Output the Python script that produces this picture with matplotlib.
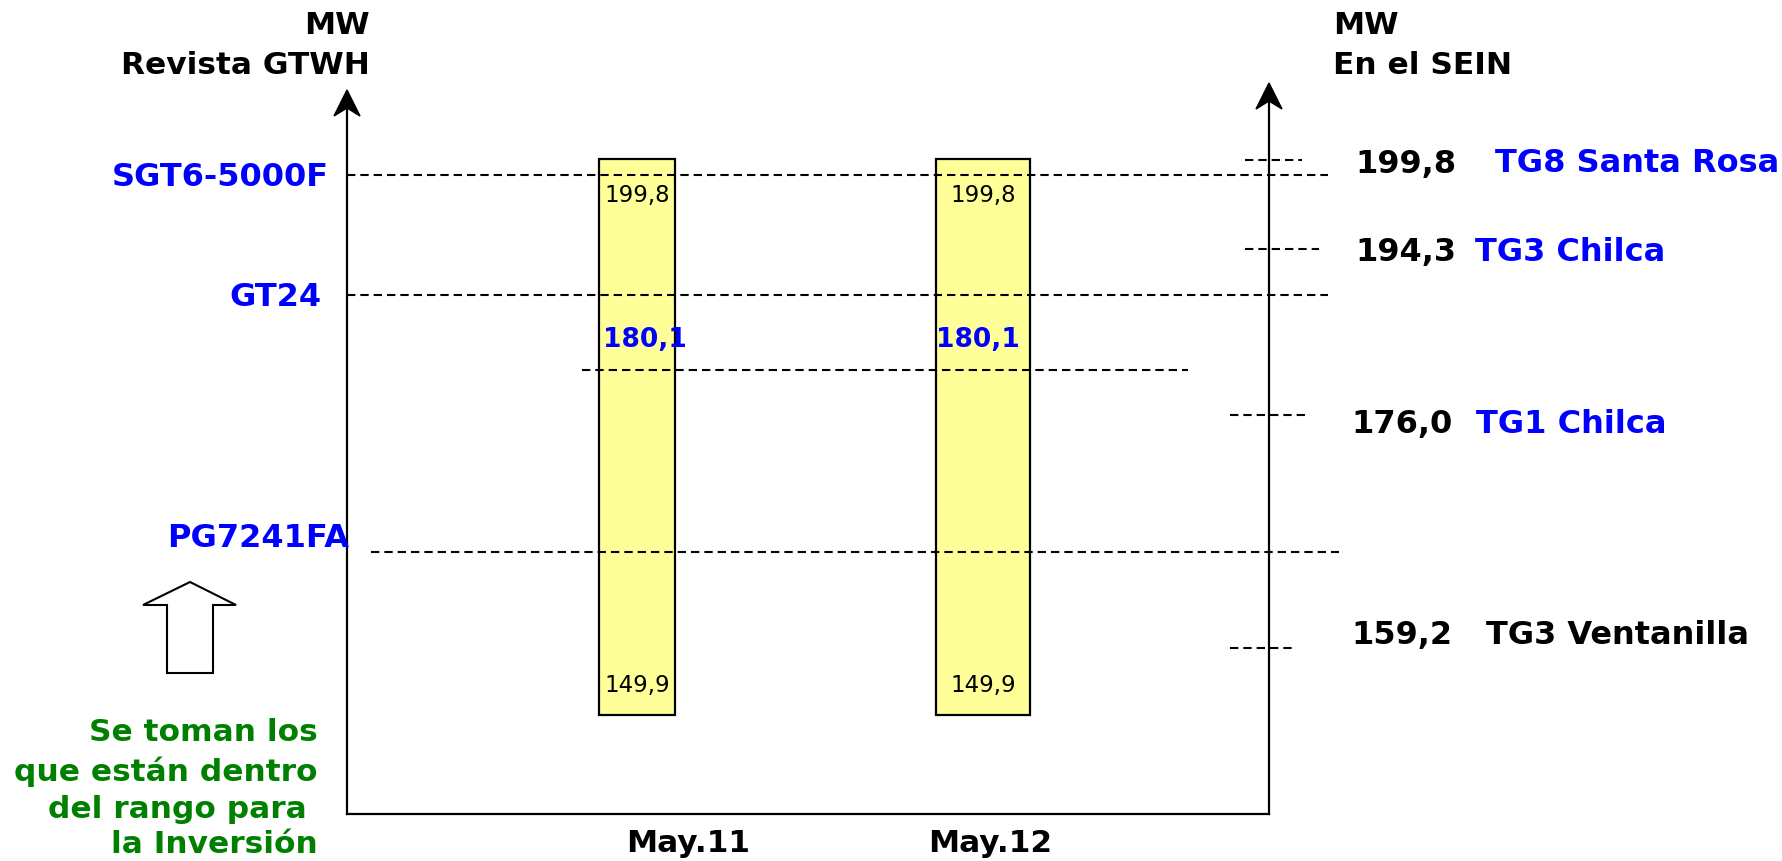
import matplotlib
matplotlib.use('Agg')
import matplotlib.pyplot as plt
from matplotlib.patches import Polygon

# Data
dates = ['May.11', 'May.12']
bar_top = [199.8, 199.8]
bar_mid = [180.1, 180.1]
bar_low = [149.9, 149.9]

models = ['SGT6-5000F', 'GT24', 'PG7241FA']

units = ['TG8 Santa Rosa', 'TG3 Chilca', 'TG1 Chilca', 'TG3 Ventanilla']
unit_mw = [199.8, 194.3, 176.0, 159.2]

note_lines = ['Se toman los', 'que están dentro', 'del rango para ', 'la Inversión']


def fmt(v):
    return '{0:.1f}'.format(v).replace('.', ',')


BLUE = '#0000ff'
GREEN = '#008000'
YELLOW = '#ffff99'
DASH = (0, (4, 2.4))
BIG = 23

plt.rcParams['font.family'] = ['DejaVu Sans']

fig = plt.figure(figsize=(17.83, 8.62), dpi=100)
ax = fig.add_axes([0, 0, 1, 1])
# layout works in pixel units, y going down
ax.set_xlim(0, 1783)
ax.set_ylim(862, 0)
ax.axis('off')

# Axes with arrows
x_left, x_right, y_base = 347, 1269, 815
ax.plot([x_left, x_right], [y_base, y_base], color='black', lw=1.6)
for x, tip in [(x_left, 91), (x_right, 84)]:
    ax.plot([x, x], [y_base, tip + 12], color='black', lw=1.6)
    head = Polygon([(x, tip), (x - 13, tip + 26), (x, tip + 18), (x + 13, tip + 26)],
                   closed=True, facecolor='black', edgecolor='black', lw=1)
    ax.add_patch(head)

ax.text(370, 25, 'MW', ha='right', va='center', fontsize=22.5, fontweight='bold')
ax.text(370, 66, 'Revista GTWH', ha='right', va='center', fontsize=22.5, fontweight='bold')
ax.text(1333, 25, 'MW', ha='left', va='center', fontsize=22.5, fontweight='bold')
ax.text(1333, 66, 'En el SEIN', ha='left', va='center', fontsize=22.5, fontweight='bold')

# Model reference lines (left)
model_y = [176, 296, 553]
model_xr = [329, 322, 349]
line_x = [(347, 1328), (347, 1328), (371, 1339)]
for name, y, xr, (x0, x1) in zip(models, model_y, model_xr, line_x):
    ax.text(xr, (y - 14 if name == 'PG7241FA' else y + 2), name, ha='right', va='center',
            fontsize=BIG, fontweight='bold', color=BLUE)
    ax.plot([x0, x1], [y, y], color='black', lw=1.5, ls=DASH, zorder=3)

# Bars
bar_x = [637, 983]
bar_w = [76, 94]
ax.bar(bar_x, [716 - 160] * 2, bottom=160, width=bar_w, color=YELLOW,
       edgecolor='black', linewidth=1.6, zorder=2)
mid_dx = [8, -5]
for x, dx, top, mid, low, d in zip(bar_x, mid_dx, bar_top, bar_mid, bar_low, dates):
    ax.text(x, 196, fmt(top), ha='center', va='center', fontsize=16.5, zorder=4)
    ax.text(x + dx, 340, fmt(mid), ha='center', va='center', fontsize=19,
            fontweight='bold', color=BLUE, zorder=4)
    ax.text(x, 686, fmt(low), ha='center', va='center', fontsize=16.5, zorder=4)
    ax.text(x + 51 if d == 'May.11' else x + 7, 844, d, ha='center', va='center',
            fontsize=22.5, fontweight='bold')
ax.plot([582, 1188], [371, 371], color='black', lw=1.5, ls=DASH, zorder=3)

# Units in the SEIN (right)
unit_y = [161, 250, 416, 649]
text_y = [164, 253, 425, 636]
tick_x = [(1245, 1302), (1245, 1319), (1230, 1305), (1230, 1294)]
name_x = [1495, 1475, 1476, 1486]
num_x = [1355, 1355, 1351, 1351]
name_c = [BLUE, BLUE, BLUE, 'black']
for u, mw, y, ty, (x0, x1), nx, vx, c in zip(units, unit_mw, unit_y, text_y,
                                            tick_x, name_x, num_x, name_c):
    ax.plot([x0, x1], [y, y], color='black', lw=1.5, ls=DASH)
    ax.text(vx, ty, fmt(mw), ha='left', va='center', fontsize=BIG, fontweight='bold')
    ax.text(nx, ty, u, ha='left', va='center', fontsize=BIG, fontweight='bold', color=c)

# Hollow up arrow
arrow = Polygon([(167, 674), (167, 606), (143, 606), (190, 583),
                 (236, 606), (213, 606), (213, 674)],
                closed=True, facecolor='white', edgecolor='black', lw=1.5)
ax.add_patch(arrow)

for line, y in zip(note_lines, [733, 772, 810, 845]):
    ax.text(318, y, line, ha='right', va='center', fontsize=22.5,
            fontweight='bold', color=GREEN)

fig.savefig('out.png', dpi=100)
